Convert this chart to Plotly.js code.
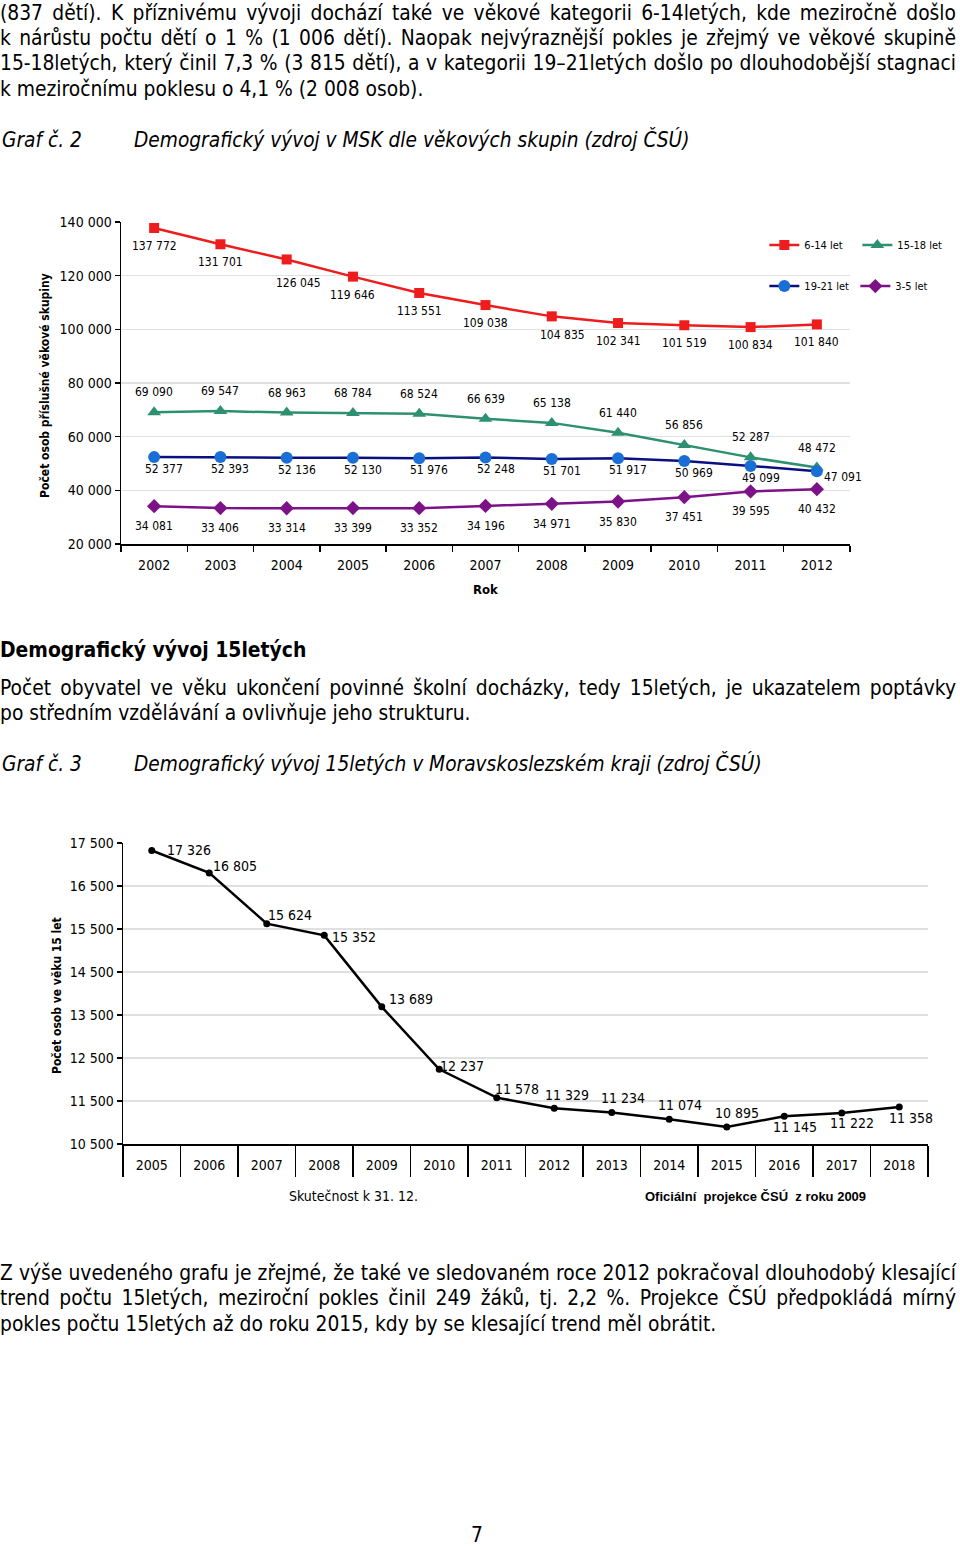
<!DOCTYPE html>
<html>
<head>
<meta charset="utf-8">
<script src="https://cdn.plot.ly/plotly-3.0.1.min.js"></script>
<style>
  html, body { margin:0; padding:0; background:#fff; }
  body { width:960px; height:1547px; position:relative; overflow:hidden;
         font-family:'DejaVu Sans Condensed','DejaVu Sans',sans-serif; font-stretch:condensed; color:#000; }
  .ln { position:absolute; left:0; width:956px; font-size:20.8px; line-height:26px; height:26px;
        text-align:justify; text-align-last:justify; white-space:nowrap; }
  .last { text-align:left; text-align-last:left; }
  .cap { position:absolute; font-size:20.7px; line-height:26px; font-style:italic; white-space:nowrap; }
  .hd { position:absolute; left:0; font-size:20.9px; line-height:26px; font-weight:bold; white-space:nowrap; }
  #c1 { position:absolute; left:0; top:190px; width:960px; height:430px; }
  #c2 { position:absolute; left:0; top:820px; width:960px; height:400px; }
</style>
</head>
<body>
<div class="ln" style="top:0px">(837 dětí). K příznivému vývoji dochází také ve věkové kategorii 6-14letých, kde meziročně došlo</div>
<div class="ln" style="top:25px">k nárůstu počtu dětí o 1 % (1 006 dětí). Naopak nejvýraznější pokles je zřejmý ve věkové skupině</div>
<div class="ln" style="top:50px">15-18letých, který činil 7,3 % (3 815 dětí), a v kategorii 19–21letých došlo po dlouhodobější stagnaci</div>
<div class="ln last" style="top:76px">k meziročnímu poklesu o 4,1 % (2 008 osob).</div>

<div class="cap" style="left:2px; top:127px">Graf č. 2</div>
<div class="cap" style="left:134px; top:127px">Demografický vývoj v MSK dle věkových skupin (zdroj ČSÚ)</div>

<div id="c1"></div>

<div class="hd" style="top:637px">Demografický vývoj 15letých</div>
<div class="ln" style="top:675px">Počet obyvatel ve věku ukončení povinné školní docházky, tedy 15letých, je ukazatelem poptávky</div>
<div class="ln last" style="top:700px">po středním vzdělávání a ovlivňuje jeho strukturu.</div>

<div class="cap" style="left:2px; top:751px">Graf č. 3</div>
<div class="cap" style="left:134px; top:751px">Demografický vývoj 15letých v Moravskoslezském kraji (zdroj ČSÚ)</div>

<div id="c2"></div>

<div class="ln" style="top:1260px">Z výše uvedeného grafu je zřejmé, že také ve sledovaném roce 2012 pokračoval dlouhodobý klesající</div>
<div class="ln" style="top:1285px">trend počtu 15letých, meziroční pokles činil 249 žáků, tj. 2,2 %. Projekce ČSÚ předpokládá mírný</div>
<div class="ln last" style="top:1311px">pokles počtu 15letých až do roku 2015, kdy by se klesající trend měl obrátit.</div>

<div style="position:absolute; left:471px; top:1522px; font-size:20.7px; line-height:26px;">7</div>

<script>
// ---------- Graf č. 2 data ----------
const years1 = ['2002','2003','2004','2005','2006','2007','2008','2009','2010','2011','2012'];
const age6_14  = [137772,131701,126045,119646,113551,109038,104835,102341,101519,100834,101840];
const age15_18 = [69090,69547,68963,68784,68524,66639,65138,61440,56856,52287,48472];
const age19_21 = [52377,52393,52136,52130,51976,52248,51701,51917,50969,49099,47091];
const age3_5   = [34081,33406,33314,33399,33352,34196,34971,35830,37451,39595,40432];
const seriesNames1 = ['6-14 let','15-18 let','19-21 let','3-5 let'];
const yTicks1 = [20000,40000,60000,80000,100000,120000,140000];

// ---------- Graf č. 3 data ----------
const years2 = ['2005','2006','2007','2008','2009','2010','2011','2012','2013','2014','2015','2016','2017','2018'];
const age15 = [17326,16805,15624,15352,13689,12237,11578,11329,11234,11074,10895,11145,11222,11358];
const groupLabels2 = ['Skutečnost k 31. 12.','Oficiální  projekce ČSÚ  z roku 2009'];
const groupSizes2 = [8,6];
const yTicks2 = [10500,11500,12500,13500,14500,15500,16500,17500];

// label offsets (px, [dx, dy] relative to the point; dy positive = down)
const seriesOffsets1 = [[0,18],[0,-20],[10,12],[0,20]];
const offsetExceptions1 = {0:{2:[12,24], 6:[11,19]}, 2:{10:[26,6]}};
const labelOffsets2 = [[37,0],[26,-7],[23,-9],[30,2],[29,-8],[23,-3],[20,-9],[13,-13],[11,-14],[11,-14],[10,-14],[11,11],[10,10],[12,11]];

const FONT = "'DejaVu Sans Condensed', 'DejaVu Sans', sans-serif";
const fmt = v => String(v).replace(/\B(?=(\d{3})+(?!\d))/g, ' ');

// ---------- chart 1 ----------
const lblFont = {family: FONT, size: 12, color: '#000'};
const seriesVals1 = [age6_14, age15_18, age19_21, age3_5];
const styles1 = [
  {line:{color:'#ee1c1c', width:2.5}, marker:{symbol:'square', size:10, color:'#ee1c1c'}, legend:'legend'},
  {line:{color:'#2e9070', width:2.5}, marker:{symbol:'triangle-up', size:12, color:'#2e9070'}, legend:'legend'},
  {line:{color:'#0a1080', width:2.5}, marker:{symbol:'circle', size:12, color:'#1a6fd6'}, legend:'legend2'},
  {line:{color:'#7d1288', width:2.5}, marker:{symbol:'diamond', size:11, color:'#7d1288'}, legend:'legend2'}
];
const t1 = seriesVals1.map((vals, s) => Object.assign({
  name: seriesNames1[s], x: years1, y: vals, mode:'lines+markers'
}, styles1[s]));
const annos1 = [
  {text:'<b>Počet osob příslušné věkové skupiny</b>', xref:'paper', yref:'paper', x:-0.1043, y:0.494,
   textangle:-90, showarrow:false, font:{family:FONT, size:12}, xanchor:'center', yanchor:'middle'},
  {text:'<b>Rok</b>', xref:'paper', yref:'paper', x:0.5, y:0, yshift:-45, showarrow:false,
   font:{family:FONT, size:13}, xanchor:'center', yanchor:'middle'}
];
seriesVals1.forEach((vals, s) => vals.forEach((v, i) => {
  const off = (offsetExceptions1[s] && offsetExceptions1[s][i]) || seriesOffsets1[s];
  annos1.push({text: fmt(v), xref:'x', yref:'y', x: i, y: v, xshift: off[0], yshift: -off[1],
    showarrow:false, xanchor:'center', yanchor:'middle', font: lblFont});
}));
const L1 = {
  width:960, height:430, margin:{l:121, r:110, t:32, b:76, autoexpand:false},
  paper_bgcolor:'#fff', plot_bgcolor:'#fff', separators:', ',
  font:{family:FONT, size:14, color:'#000'},
  xaxis:{type:'category', range:[-0.5, years1.length-0.5], showline:true, linecolor:'#000', linewidth:1.5,
         ticks:'outside', tickson:'boundaries', ticklen:6, tickcolor:'#000', tickwidth:1.5,
         showgrid:false, zeroline:false, tickfont:{family:FONT, size:14}, ticklabelstandoff:8},
  yaxis:{range:[20000,140000], tickvals:yTicks1, ticktext:yTicks1.map(fmt), showline:true, linecolor:'#000', linewidth:1.5,
         ticks:'outside', ticklen:5, tickcolor:'#000', tickwidth:1.5, gridcolor:'#e0e0e0', gridwidth:1.5,
         zeroline:false, tickfont:{family:FONT, size:14}},
  showlegend:true,
  legend:{x:0.8825, y:0.9286, xanchor:'left', yanchor:'middle', orientation:'h', bgcolor:'rgba(0,0,0,0)',
          font:{family:FONT, size:11}, entrywidth:48, entrywidthmode:'pixels', itemclick:false},
  legend2:{x:0.8825, y:0.801, xanchor:'left', yanchor:'middle', orientation:'h', bgcolor:'rgba(0,0,0,0)',
          font:{family:FONT, size:11}, entrywidth:46, entrywidthmode:'pixels', itemclick:false},
  shapes:[{type:'rect', xref:'paper', yref:'paper', x0:0.883, x1:1.0, y0:0.74, y1:0.96,
           fillcolor:'#fff', line:{width:0}, layer:'between'}],
  annotations: annos1
};
Plotly.newPlot('c1', t1, L1, {staticPlot:true});

// ---------- chart 2 ----------
const lbl2 = {family: FONT, size: 14, color:'#000'};
const t2 = [{
  x: years2, y: age15, mode:'lines+markers', showlegend:false,
  line:{color:'#000', width:2.5}, marker:{symbol:'circle', size:7, color:'#000'}
}];
// group boundaries along category axis
const bounds = [-0.5];
groupSizes2.forEach(n => bounds.push(bounds[bounds.length-1] + n));
const shapes2 = bounds.map(b => ({type:'line', xref:'x', yref:'y', ysizemode:'pixel', yanchor:yTicks2[0],
  x0:b, x1:b, y0:0, y1:-61, line:{color:'#000', width:1.5}}));
const annos2 = groupLabels2.map((g,i) => ({
  text: i===0 ? g : '<b>'+g+'</b>', xref:'x', yref:'paper', x:(bounds[i]+bounds[i+1])/2, y:0, yshift:-52,
  showarrow:false, xanchor:'center', yanchor:'middle',
  font: i===0 ? {family:FONT, size:14} : {family:"'Liberation Sans', Arial, sans-serif", size:13}
}));
age15.forEach((v,i) => annos2.push({
  text: fmt(v), xref:'x', yref:'y', x: i, y: v, xshift: labelOffsets2[i][0], yshift: -labelOffsets2[i][1],
  showarrow:false, xanchor:'center', yanchor:'middle', font: lbl2
}));
annos2.push({text:'<b>Počet osob ve věku 15 let</b>', xref:'paper', yref:'paper', x:-0.082, y:0.495,
  textangle:-90, showarrow:false, font:{family:FONT, size:12}, xanchor:'center', yanchor:'middle'});
const L2 = {
  width:960, height:400, margin:{l:123, r:32, t:23, b:76, autoexpand:false},
  paper_bgcolor:'#fff', plot_bgcolor:'#fff', separators:', ',
  font:{family:FONT, size:14, color:'#000'},
  xaxis:{type:'category', range:[-0.5, years2.length-0.5], showline:true, linecolor:'#000', linewidth:1.5,
         ticks:'outside', tickson:'boundaries', ticklen:31, tickcolor:'#000', tickwidth:1.5,
         showgrid:false, zeroline:false, tickfont:{family:FONT, size:14}, ticklabelstandoff:8},
  yaxis:{range:[yTicks2[0], yTicks2[yTicks2.length-1]], tickvals:yTicks2, ticktext:yTicks2.map(fmt),
         showline:true, linecolor:'#000', linewidth:1.5, ticks:'outside', ticklen:5, tickcolor:'#000', tickwidth:1.5,
         gridcolor:'#e0e0e0', gridwidth:1.5, zeroline:false, tickfont:{family:FONT, size:14}},
  shapes: shapes2, annotations: annos2
};
Plotly.newPlot('c2', t2, L2, {staticPlot:true});
</script>
</body>
</html>
